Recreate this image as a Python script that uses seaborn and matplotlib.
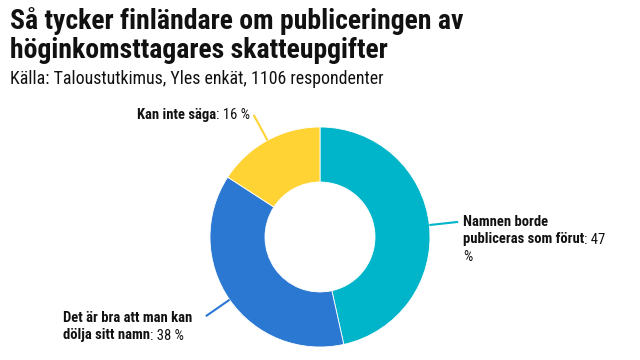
import numpy as np
import seaborn as sns
import matplotlib.pyplot as plt
from matplotlib import font_manager as fm

# survey answers (percent), drawn clockwise from 12 o'clock
values = [47, 38, 16]
colors = ["#00B5C9", "#2B78D3", "#FFD333"]
pct = ["47", "38 %", "16 %"]

title = "Så tycker finländare om publiceringen av\nhöginkomsttagares skatteupgifter"
subtitle = "Källa: Taloustutkimus, Yles enkät, 1106 respondenter"

sns.set_theme(style="white")

# pick a narrow sans if the machine has one
names = {f.name for f in fm.fontManager.ttflist}
stretch = "normal"
family = "Liberation Sans"
for cand in ["Liberation Sans Narrow", "Roboto Condensed", "Open Sans Condensed",
             "Noto Sans Condensed", "Arial Narrow"]:
    if cand in names:
        family = cand
        break
else:
    if any(f.name == "DejaVu Sans" and f.stretch == "condensed" for f in fm.fontManager.ttflist):
        family, stretch = "DejaVu Sans", "condensed"
    elif any(f.name == "Noto Sans" and f.stretch in ("condensed", "semi-condensed") for f in fm.fontManager.ttflist):
        family, stretch = "Noto Sans", "condensed"
plt.rcParams['font.family'] = [family, 'DejaVu Sans']
plt.rcParams['font.stretch'] = stretch
ink = "#111111"

fig = plt.figure(figsize=(6.4, 3.6), dpi=100)
ax = fig.add_axes([0, 0, 1, 1])
renderer = fig.canvas.get_renderer()

def fit_size(txt, weight, target_px, start=12):
    t = fig.text(0, 0, txt, fontsize=start, fontweight=weight)
    w = t.get_window_extent(renderer).width
    t.remove()
    return start * target_px / w

# axes in pixel units (y up) so layout matches 640x360
cx, cy, r = 320, 360 - 237, 110
wedges, _ = ax.pie(values, colors=colors, startangle=90, counterclock=False,
                   center=(cx, cy), radius=r, frame=True,
                   wedgeprops=dict(width=r * 0.5, edgecolor="white", linewidth=0.6))
ax.set_xlim(0, 640)
ax.set_ylim(0, 360)
ax.set_aspect("equal")
ax.axis("off")

fs_title = min(fit_size("Så tycker finländare om publiceringen av", "bold", 456), 20.5)
fs_sub = min(fit_size(subtitle, "normal", 373), 13)
fs_lab = min(fit_size("Det är bra att man kan", "bold", 134), 10.5)

fig.text(10 / 640, 1 - 21 / 360, title.split("\n")[0], fontsize=fs_title, fontweight="bold",
         va="center", ha="left", color=ink)
fig.text(10 / 640, 1 - 50 / 360, title.split("\n")[1], fontsize=fs_title, fontweight="bold",
         va="center", ha="left", color=ink)
fig.text(10 / 640, 1 - 79 / 360, subtitle, fontsize=fs_sub, va="center", ha="left", color=ink)

def place_label(x, ytop, lines, fs, lh=17.5):
    # lines: list of [(text, weight), ...]; x, ytop in pixel coords (y down)
    for i, segs in enumerate(lines):
        xx = x
        yy = 360 - (ytop + i * lh)
        for txt, w in segs:
            t = ax.text(xx, yy, txt, fontsize=fs, fontweight=w, va="center", ha="left", color=ink)
            xx += t.get_window_extent(renderer).width

# leader lines: radial from outer edge
cum = np.cumsum([0] + values)
tot = cum[-1]
for i, w in enumerate(wedges):
    mid = 90 - (cum[i] + values[i] / 2) / tot * 360
    a = np.deg2rad(mid)
    x0, y0 = cx + r * np.cos(a), cy + r * np.sin(a)
    x1, y1 = cx + (r + 29) * np.cos(a), cy + (r + 29) * np.sin(a)
    ax.plot([x0, x1], [y0, y1], color=colors[i], lw=1.5, solid_capstyle="butt")

place_label(463, 222, [[("Namnen borde", "bold")],
                       [("publiceras som förut", "bold"), (": " + pct[0], "normal")],
                       [("%", "normal")]], fs_lab)
place_label(63, 318, [[("Det är bra att man kan", "bold")],
                      [("dölja sitt namn", "bold"), (": " + pct[1], "normal")]], fs_lab)
place_label(137, 115, [[("Kan inte säga", "bold"), (": " + pct[2], "normal")]], fs_lab)

fig.savefig("out.png", dpi=100)
